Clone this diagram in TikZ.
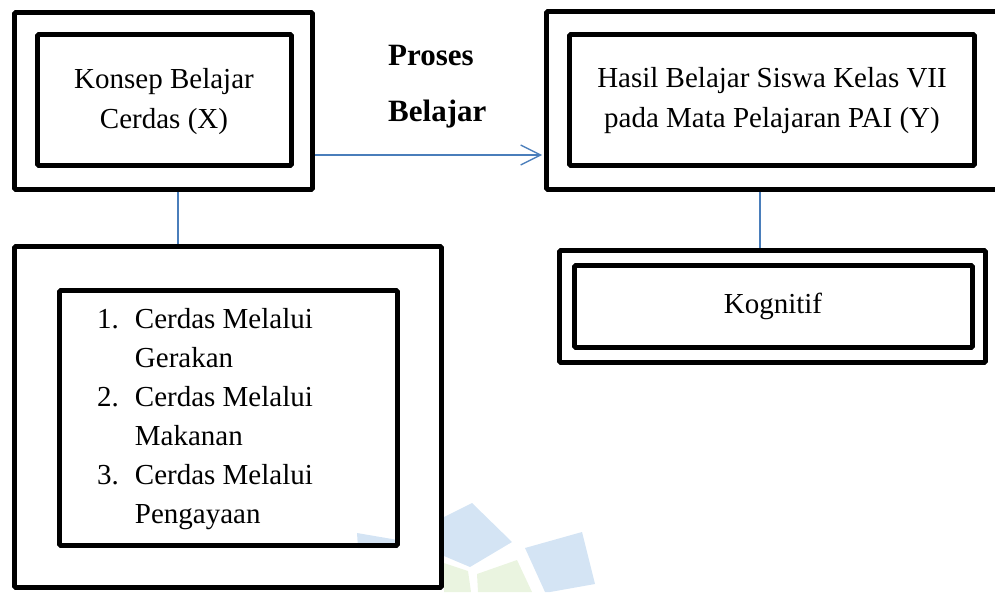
\documentclass[tikz,border=0pt]{standalone}
\usepackage{fontspec}
\setmainfont{Liberation Serif}
\usetikzlibrary{arrows.meta}
\definecolor{connblue}{HTML}{4A7EBB}
\definecolor{wmblue}{HTML}{D4E4F4}
\definecolor{wmgreen}{HTML}{EAF4E0}
\begin{document}
\begin{tikzpicture}[x=1pt,y=-1pt,
  frame/.style={draw=black, line width=4.6pt, rounded corners=1.2pt, inner sep=0pt},
  txt/.style={inner sep=0pt, font=\fontsize{29}{40.5}\selectfont},
  listtxt/.style={inner sep=0pt, font=\fontsize{29}{39}\selectfont},
  boldtxt/.style={inner sep=0pt, font=\fontsize{31}{38}\selectfont\bfseries},
  link/.style={draw=connblue, line width=1.4pt},
  wm/.style={draw=none}]
\useasboundingbox (0,0) rectangle (995,592);
\clip (0,0) rectangle (995,592);
% faint watermark
\fill[wm, wmblue] (444,517) -- (472,503) -- (512,542) -- (470,567) -- (444,556) -- cycle;
\fill[wm, wmblue] (357,533) -- (398,540) -- (398,548) -- (358,548) -- cycle;
\fill[wm, wmblue] (525,548) -- (582,532) -- (595,584) -- (550,592) -- (545,592) -- cycle;
\fill[wm, wmgreen] (444,563) -- (468,571) -- (471,592) -- (444,592) -- cycle;
\fill[wm, wmgreen] (477,574) -- (517,560) -- (532,592) -- (478,592) -- cycle;
% X box
\node[frame, minimum width=298pt, minimum height=177pt] (xo) at (163.5,101) {};
\node[frame, minimum width=254pt, minimum height=131pt] (xi) at (164.5,100) {};
\node[txt, anchor=base] (xt) at (164,88) {\begin{tabular}[t]{@{}c@{}}Konsep Belajar\\Cerdas (X)\end{tabular}};
% Y box
\node[frame, minimum width=454pt, minimum height=178pt] (yo) at (773.5,100.5) {};
\node[frame, minimum width=405pt, minimum height=131pt] (yi) at (772,100) {};
\node[txt, anchor=base] (yt) at (772,87) {\begin{tabular}[t]{@{}c@{}}Hasil Belajar Siswa Kelas VII\\pada Mata Pelajaran PAI (Y)\end{tabular}};
% process label
\node[boldtxt, anchor=base west] (pr) at (388,65) {Proses};
\node[boldtxt, anchor=base west] (bl) at (388,121) {Belajar};
% Kognitif
\node[frame, minimum width=426pt, minimum height=112pt] (ko) at (772.5,306.5) {};
\node[frame, minimum width=398pt, minimum height=82pt] (ki) at (773.5,306.5) {};
\node[txt, anchor=base] (kt) at (773,313) {Kognitif};
% list box
\node[frame, minimum width=427pt, minimum height=341pt] (lo) at (228,417) {};
\node[frame, minimum width=338pt, minimum height=255pt] (li) at (228.5,418) {};
\node[listtxt, anchor=base west] (lt) at (97,328) {\begin{tabular}[t]{@{}r@{\hspace{16pt}}l@{}}
1. & Cerdas Melalui\\
   & Gerakan\\
2. & Cerdas Melalui\\
   & Makanan\\
3. & Cerdas Melalui\\
   & Pengayaan
\end{tabular}};
% connectors
\draw[link] (xo.south -| 178,0) -- (lo.north -| 178,0);
\draw[link] (yo.south -| 760,0) -- (ko.north -| 760,0);
\draw[link, -{Straight Barb[length=20pt, width=20pt]}, shorten >=2pt] (xo.east |- 0,155) -- (yo.west |- 0,155);
\end{tikzpicture}
\end{document}
